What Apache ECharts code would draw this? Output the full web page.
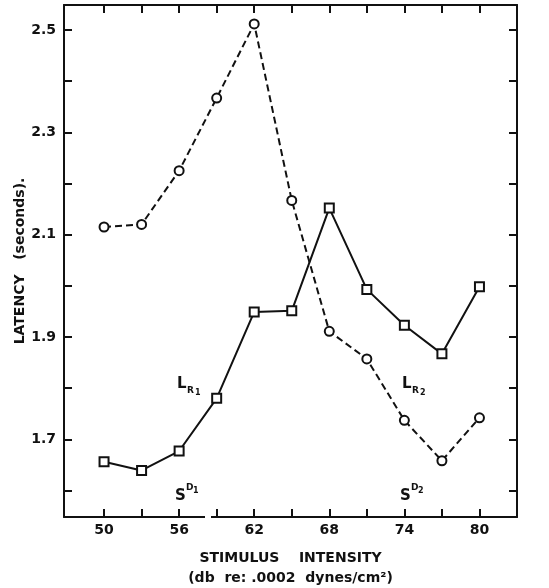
<!DOCTYPE html>
<html>
<head>
<meta charset="utf-8">
<script src="https://cdn.jsdelivr.net/npm/echarts@6/dist/echarts.min.js"></script>
<style>
  html, body { margin: 0; padding: 0; background: #fff; }
  #chart { width: 549px; height: 588px; }
</style>
</head>
<body>
<div id="chart"></div>
<script>
// Stimulus intensities (db) and latencies (seconds)
const intensity = [50, 53, 56, 59, 62, 65, 68, 71, 74, 77, 80];
const latencyDashed = [2.115, 2.120, 2.225, 2.367, 2.512, 2.167, 1.911, 1.857, 1.737, 1.658, 1.742];
const latencySolid = [1.656, 1.639, 1.677, 1.780, 1.949, 1.951, 2.152, 1.993, 1.923, 1.867, 1.998];

const xTicks = [50, 53, 56, 59, 62, 65, 68, 71, 74, 77, 80];
const xTickLabels = [50, 56, 62, 68, 74, 80];
const yTicks = [1.6, 1.7, 1.8, 1.9, 2.0, 2.1, 2.2, 2.3, 2.4, 2.5];
const yTickLabels = [1.7, 1.9, 2.1, 2.3, 2.5];

const FONT = 'DejaVu Sans';
const INK = '#111';

const pairs = (ys) => intensity.map((x, i) => [x, ys[i]]);

const chart = echarts.init(document.getElementById('chart'), null, { renderer: 'canvas' });

const xBase = {
  type: 'value', min: 46.8, max: 83.0,
  splitLine: { show: false },
  axisLine: { show: true, onZero: false, lineStyle: { color: INK, width: 2 } },
  axisTick: { show: true, inside: true, length: 8, customValues: xTicks, lineStyle: { color: INK, width: 2 } }
};
const yBase = {
  type: 'value', min: 1.548, max: 2.549,
  splitLine: { show: false },
  axisLine: { show: true, onZero: false, lineStyle: { color: INK, width: 2 } },
  axisTick: { show: true, inside: true, length: 8, customValues: yTicks, lineStyle: { color: INK, width: 2 } }
};

function txt(x, y, s, size) {
  return { type: 'text', left: x, top: y, style: { text: s, font: 'bold ' + size + 'px "' + FONT + '"', fill: INK } };
}

chart.setOption({
  animation: false,
  backgroundColor: '#fff',
  grid: { left: 64, top: 5, right: 32, bottom: 71, containLabel: false, outerBoundsMode: 'none' },
  xAxis: [
    Object.assign({}, xBase, {
      position: 'bottom',
      axisLabel: { show: true, customValues: xTickLabels, margin: 6, color: INK, fontFamily: FONT, fontWeight: 'bold', fontSize: 14 },
      name: 'STIMULUS    INTENSITY\n(db  re: .0002  dynes/cm²)',
      nameLocation: 'middle', nameGap: 31,
      nameTextStyle: { color: INK, fontFamily: FONT, fontWeight: 'bold', fontSize: 14, lineHeight: 20 }
    }),
    Object.assign({}, xBase, { position: 'top', axisLabel: { show: false } })
  ],
  yAxis: [
    Object.assign({}, yBase, {
      position: 'left',
      axisLabel: { show: true, customValues: yTickLabels, margin: 8, color: INK, fontFamily: FONT, fontWeight: 'bold', fontSize: 14,
                   formatter: v => v.toFixed(1) },
      name: 'LATENCY   (seconds).',
      nameLocation: 'middle', nameGap: 37, nameMoveOverlap: false,
      nameTextStyle: { color: INK, fontFamily: FONT, fontWeight: 'bold', fontSize: 14 }
    }),
    Object.assign({}, yBase, { position: 'right', axisLabel: { show: false } })
  ],
  series: [
    {
      type: 'line', data: pairs(latencyDashed),
      symbol: 'circle', symbolSize: 9,
      lineStyle: { color: INK, width: 2, type: [7, 4] },
      itemStyle: { color: '#fff', borderColor: INK, borderWidth: 2 },
      z: 3
    },
    {
      type: 'line', data: pairs(latencySolid),
      symbol: 'rect', symbolSize: 9,
      lineStyle: { color: INK, width: 2 },
      itemStyle: { color: '#fff', borderColor: INK, borderWidth: 2 },
      z: 4
    }
  ],
  graphic: [
    // break in the bottom axis line
    { type: 'rect', shape: { x: 205, y: 514, width: 6, height: 6 }, style: { fill: '#fff' }, z: 100 },
    // response latency labels
    txt(177, 377, 'L', 15), txt(187, 386, 'R', 9), txt(195, 389, '1', 8),
    txt(402, 377, 'L', 15), txt(412, 386, 'R', 9), txt(420, 389, '2', 8),
    // discriminative stimulus labels
    txt(175, 489, 'S', 15), txt(186, 483, 'D', 9), txt(193, 487, '1', 8),
    txt(400, 489, 'S', 15), txt(411, 483, 'D', 9), txt(418, 487, '2', 8)
  ]
});
</script>
</body>
</html>
